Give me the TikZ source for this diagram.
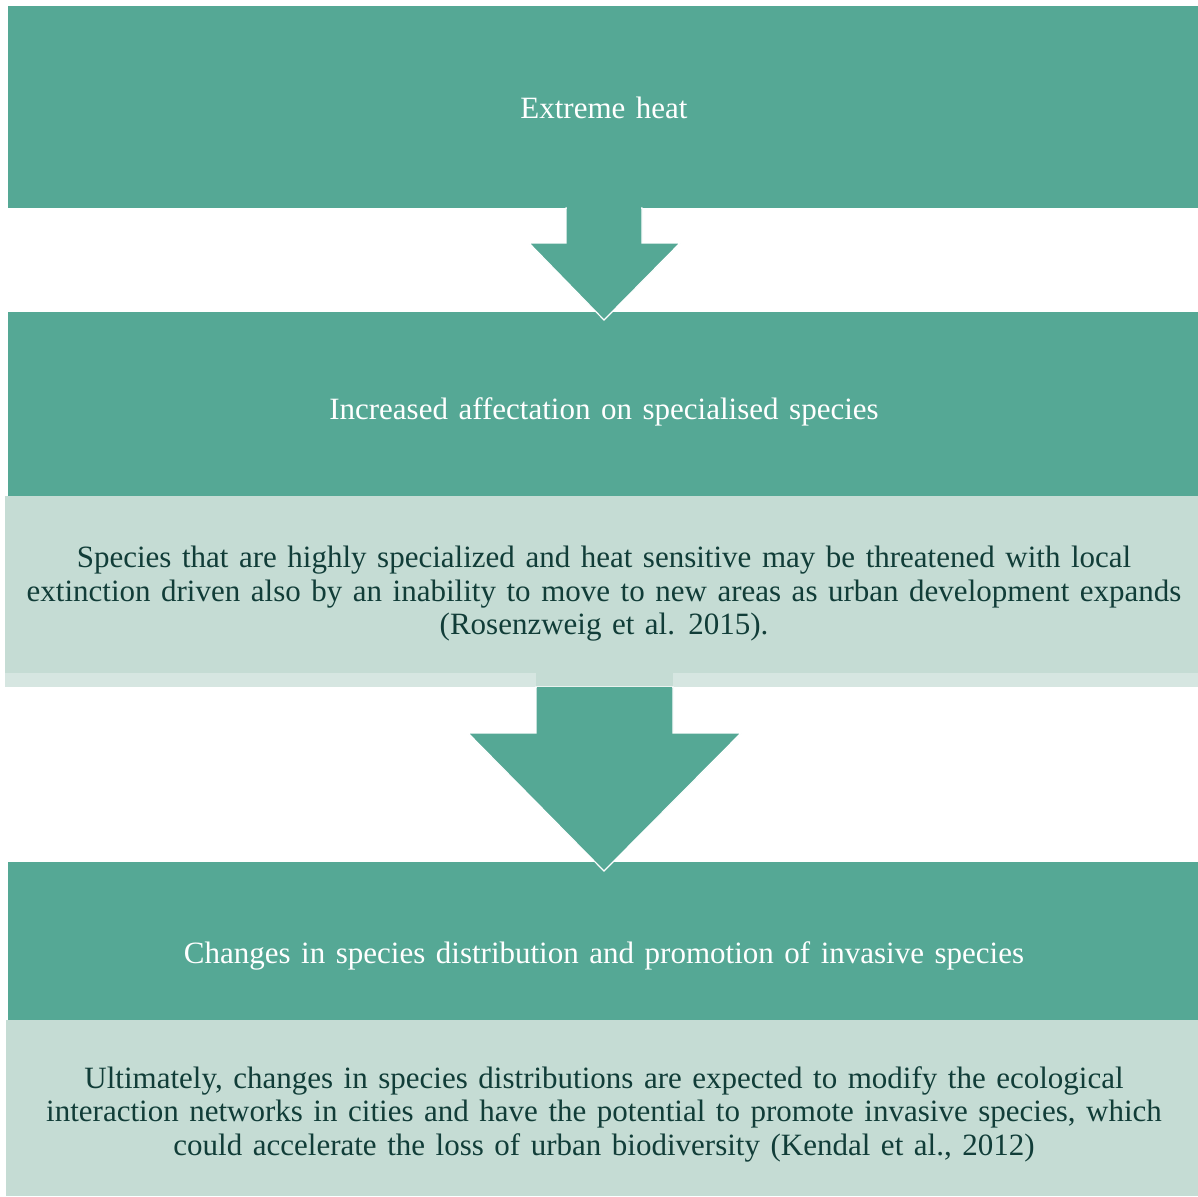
\documentclass[tikz,border=0pt]{standalone}
\usepackage{fontspec}
\setmainfont{Liberation Serif}
\definecolor{teal}{HTML}{55A895}
\definecolor{pale}{HTML}{C5DCD4}
\definecolor{paler}{HTML}{D6E6E1}
\definecolor{ink}{HTML}{113D38}
\newcommand{\boxfont}{\fontsize{31}{33.5}\selectfont\spaceskip=0.34em plus 0.1em\relax}
\begin{document}
\begin{tikzpicture}[x=1pt,y=-1pt,
  head/.style={fill=teal,draw=none,minimum width=1190pt,inner sep=0pt,anchor=north west},
  body/.style={fill=pale,draw=none,minimum width=1193pt,inner sep=0pt,anchor=north west},
  headtext/.style={text=white,font=\boxfont,align=center},
  bodytext/.style={text=ink,font=\boxfont,align=center},
  blockarrow/.style={fill=teal,draw=white,line width=1.2pt,line join=miter}]
\useasboundingbox (0,0) rectangle (1198,1196);

% level 1
\node[head,minimum height=202pt] (b1) at (8,6) {};
\node[headtext] (t1) at (604,108) {Extreme heat};

% level 2
\node[head,minimum height=184pt] (b2) at (8,312) {};
\node[body,minimum height=191pt,fill=paler] (s2) at (5,496) {};
\node[body,minimum height=177pt] (c2) at (5,496) {};
\node[headtext] (t2) at (604,412) {Increased affectation on specialised species};
\node[bodytext] (d2) at (604,594) {Species that are highly specialized and heat sensitive may be threatened with local\\extinction driven also by an inability to move to new areas as urban development expands\\(Rosenzweig et al. 2015).};

% level 3
\node[head,minimum height=158pt] (b3) at (8,862) {};
\node[body,minimum height=176pt] (c3) at (6,1020) {};
\node[headtext] (t3) at (604,956) {Changes in species distribution and promotion of invasive species};
\node[bodytext] (d3) at (604,1114) {Ultimately, changes in species distributions are expected to modify the ecological\\interaction networks in cities and have the potential to promote invasive species, which\\could accelerate the loss of urban biodiversity (Kendal et al., 2012)};

% block arrows between levels
\fill[pale] (536,673) rectangle (673,687);
\path[blockarrow] (566,208) -- (642,208) -- (642,243) -- (680,243) -- (604,320) -- (529,243) -- (566,243) -- cycle;
\path[blockarrow] (536,687) -- (673,687) -- (673,733) -- (741,733) -- (604,871) -- (468,733) -- (536,733) -- cycle;
\fill[teal] (566.7,206) rectangle (641.3,244);
\fill[teal] (536.7,687) rectangle (672.3,734);
\end{tikzpicture}
\end{document}
